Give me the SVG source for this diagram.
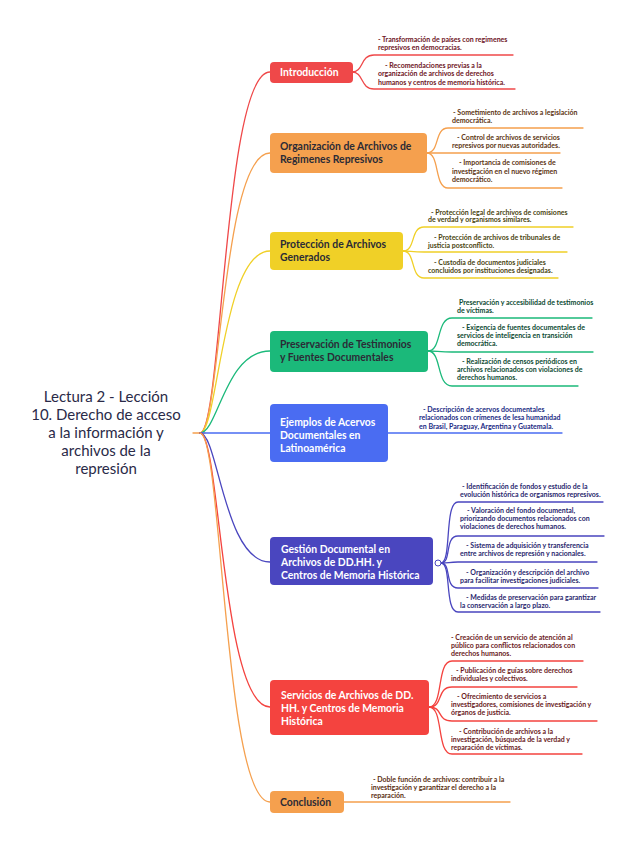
<svg xmlns="http://www.w3.org/2000/svg" width="629" height="848" viewBox="0 0 629 848">
<style>
.c{fill:none;stroke-width:1.3;stroke-linecap:round}
.n{font-family:Lato,"Open Sans",sans-serif;font-size:10.4px;font-weight:bold}
.l{font-family:Lato,"Open Sans",sans-serif;font-size:7px;font-weight:bold}
.root{font-family:Lato,"Open Sans",sans-serif;font-size:15px;fill:#2a2a48;text-anchor:middle}
.w{fill:#ffffff}.d{fill:#2b2b36}
</style>
<rect width="629" height="848" fill="#ffffff"/>
<g id="root">
<text class="root" x="106" y="402">Lectura 2 - Lección</text>
<text class="root" x="106" y="420">10. Derecho de acceso</text>
<text class="root" x="106" y="438">a la información y</text>
<text class="root" x="106" y="456">archivos de la</text>
<text class="root" x="106" y="474">represión</text>
</g>
<g id="connectors">
<path class="c" stroke="#f5a04e" d="M193,433 H205"/>
<path class="c" stroke="#ef4849" d="M200,433 C222,433 224,72 270,72"/>
<path class="c" stroke="#f5a04e" d="M200,433 C220,433 222,153 270,153"/>
<path class="c" stroke="#f0d027" d="M200,433 C218,433 222,251 270,251"/>
<path class="c" stroke="#1bb97a" d="M200,433 C218,433 225,351 270,351"/>
<path class="c" stroke="#4a6cf2" d="M200,433 H270"/>
<path class="c" stroke="#4a46bf" d="M200,433 C218,433 224,562 270,562"/>
<path class="c" stroke="#f4433f" d="M200,433 C220,433 222,707 270,707"/>
<path class="c" stroke="#f5a04e" d="M200,433 C222,433 224,802 270,802"/>
<path class="c" stroke="#ef4849" d="M352,72 C364,72 360,55 374,55 H513"/>
<path class="c" stroke="#ef4849" d="M352,72 C364,72 360,89 374,89 H515"/>
<path class="c" stroke="#f5a04e" d="M427,153 C440,153 434,128 448,128 H583"/>
<path class="c" stroke="#f5a04e" d="M427,153 H560"/>
<path class="c" stroke="#f5a04e" d="M427,153 C440,153 434,188 448,188 H562"/>
<path class="c" stroke="#f0d027" d="M403,251 C416,251 410,227 424,227 H573"/>
<path class="c" stroke="#f0d027" d="M403,251 C410,251 412,252 424,252 H567"/>
<path class="c" stroke="#f0d027" d="M403,251 C416,251 410,278 424,278 H558"/>
<path class="c" stroke="#1bb97a" d="M428,351 C442,351 436,318 452,318 H592"/>
<path class="c" stroke="#1bb97a" d="M428,351 C436,351 440,352 452,352 H593"/>
<path class="c" stroke="#1bb97a" d="M428,351 C442,351 436,386 452,386 H578"/>
<path class="c" stroke="#4a6cf2" d="M388,433 H562"/>
<path class="c" stroke="#4a46bf" d="M441,563 C452,563 444,502 458,502 H603"/>
<path class="c" stroke="#4a46bf" d="M441,563 C452,563 444,536 458,536 H604"/>
<path class="c" stroke="#4a46bf" d="M441,563 C450,563 448,562 458,562 H597"/>
<path class="c" stroke="#4a46bf" d="M441,563 C452,563 444,588 458,588 H598"/>
<path class="c" stroke="#4a46bf" d="M441,563 C452,563 444,612 458,612 H600"/>
<path class="c" stroke="#f4433f" d="M429,707 C444,707 436,661 452,661 H583"/>
<path class="c" stroke="#f4433f" d="M429,707 C444,707 436,687 452,687 H577"/>
<path class="c" stroke="#f4433f" d="M429,707 C444,707 436,721 452,721 H597"/>
<path class="c" stroke="#f4433f" d="M429,707 C444,707 436,754 452,754 H582"/>
<path class="c" stroke="#f5a04e" d="M343,802 H510"/>
</g>
<g id="n-introduccion">
<rect x="270" y="62" width="83" height="21" rx="4" fill="#ef4849"/>
<text class="n w" x="280" y="76">Introducción</text>
<g class="l" fill="#6e1424">
<text x="378" y="42">- Transformación de países con regimenes</text>
<text x="378" y="50">represivos en democracias.</text>
<text x="385" y="68">- Recomendaciones previas a la</text>
<text x="378" y="76">organización de archivos de derechos</text>
<text x="378" y="85">humanos y centros de memoria histórica.</text>
</g>
</g>
<g id="n-organizacion">
<rect x="270" y="133" width="157" height="40" rx="4" fill="#f5a04e"/>
<text class="n d" x="280" y="150">Organización de Archivos de</text>
<text class="n d" x="280" y="163">Regimenes Represivos</text>
<g class="l" fill="#5c3412">
<text x="453" y="115">- Sometimiento de archivos a legislación</text>
<text x="452" y="123">democrática.</text>
<text x="457" y="140">- Control de archivos de servicios</text>
<text x="452" y="148">represivos por nuevas autoridades.</text>
<text x="459" y="165">- Importancia de comisiones de</text>
<text x="452" y="174">investigación en el nuevo régimen</text>
<text x="452" y="182">democrático.</text>
</g>
</g>
<g id="n-proteccion">
<rect x="270" y="232" width="133" height="38" rx="4" fill="#f0d027"/>
<text class="n d" x="280" y="248">Protección de Archivos</text>
<text class="n d" x="280" y="261">Generados</text>
<g class="l" fill="#4a4410">
<text x="431" y="215">- Protección legal de archivos de comisiones</text>
<text x="428" y="222">de verdad y organismos similares.</text>
<text x="434" y="240">- Protección de archivos de tribunales de</text>
<text x="428" y="248">justicia postconflicto.</text>
<text x="434" y="265">- Custodia de documentos judiciales</text>
<text x="428" y="273">concluidos por instituciones designadas.</text>
</g>
</g>
<g id="n-preservacion">
<rect x="270" y="331" width="158" height="41" rx="4" fill="#1bb97a"/>
<text class="n d" x="280" y="348">Preservación de Testimonios</text>
<text class="n d" x="280" y="361">y Fuentes Documentales</text>
<g class="l" fill="#0d4a32">
<text x="459" y="305">Preservación y accesibilidad de testimonios</text>
<text x="457" y="313">de víctimas.</text>
<text x="462" y="330">- Exigencia de fuentes documentales de</text>
<text x="457" y="338">servicios de inteligencia en transición</text>
<text x="457" y="346">democrática.</text>
<text x="462" y="364">- Realización de censos periódicos en</text>
<text x="457" y="372">archivos relacionados con violaciones de</text>
<text x="457" y="380">derechos humanos.</text>
</g>
</g>
<g id="n-ejemplos">
<rect x="270" y="404" width="118" height="58" rx="4" fill="#4a6cf2"/>
<text class="n w" x="280" y="426">Ejemplos de Acervos</text>
<text class="n w" x="280" y="439">Documentales en</text>
<text class="n w" x="280" y="452">Latinoamérica</text>
<g class="l" fill="#1a2a84">
<text x="423" y="412">- Descripción de acervos documentales</text>
<text x="419" y="420">relacionados con crímenes de lesa humanidad</text>
<text x="419" y="429">en Brasil, Paraguay, Argentina y Guatemala.</text>
</g>
</g>
<g id="n-gestion">
<rect x="270" y="537" width="163" height="48" rx="4" fill="#4a46bf"/>
<text class="n w" x="281" y="553">Gestión Documental en</text>
<text class="n w" x="281" y="566">Archivos de DD.HH. y</text>
<text class="n w" x="281" y="579">Centros de Memoria Histórica</text>
<circle cx="438" cy="563" r="3" fill="#ffffff" stroke="#4a46bf" stroke-width="1"/>
<g class="l" fill="#2a276e">
<text x="462" y="489">- Identificación de fondos y estudio de la</text>
<text x="460" y="497">evolución histórica de organismos represivos.</text>
<text x="467" y="513">- Valoración del fondo documental,</text>
<text x="460" y="521">priorizando documentos relacionados con</text>
<text x="460" y="529">violaciones de derechos humanos.</text>
<text x="466" y="548">- Sistema de adquisición y transferencia</text>
<text x="460" y="556">entre archivos de represión y nacionales.</text>
<text x="466" y="575">- Organización y descripción del archivo</text>
<text x="460" y="583">para facilitar investigaciones judiciales.</text>
<text x="466" y="600">- Medidas de preservación para garantizar</text>
<text x="460" y="608">la conservación a largo plazo.</text>
</g>
</g>
<g id="n-servicios">
<rect x="270" y="680" width="159" height="55" rx="4" fill="#f4433f"/>
<text class="n w" x="281" y="699">Servicios de Archivos de DD.</text>
<text class="n w" x="281" y="712">HH. y Centros de Memoria</text>
<text class="n w" x="281" y="725">Histórica</text>
<g class="l" fill="#6a1a1c">
<text x="451" y="640">- Creación de un servicio de atención al</text>
<text x="451" y="648">público para conflictos relacionados con</text>
<text x="451" y="656">derechos humanos.</text>
<text x="456" y="673">- Publicación de guías sobre derechos</text>
<text x="451" y="681">individuales y colectivos.</text>
<text x="457" y="699">- Ofrecimiento de servicios a</text>
<text x="451" y="707">investigadores, comisiones de investigación y</text>
<text x="451" y="715">órganos de justicia.</text>
<text x="459" y="734">- Contribución de archivos a la</text>
<text x="451" y="742">investigación, búsqueda de la verdad y</text>
<text x="451" y="750">reparación de víctimas.</text>
</g>
</g>
<g id="n-conclusion">
<rect x="270" y="791" width="74" height="22" rx="4" fill="#f5a04e"/>
<text class="n d" x="280" y="806">Conclusión</text>
<g class="l" fill="#5a2e10">
<text x="373" y="782">- Doble función de archivos: contribuir a la</text>
<text x="371" y="790">investigación y garantizar el derecho a la</text>
<text x="371" y="798">reparación.</text>
</g>
</g>
</svg>
